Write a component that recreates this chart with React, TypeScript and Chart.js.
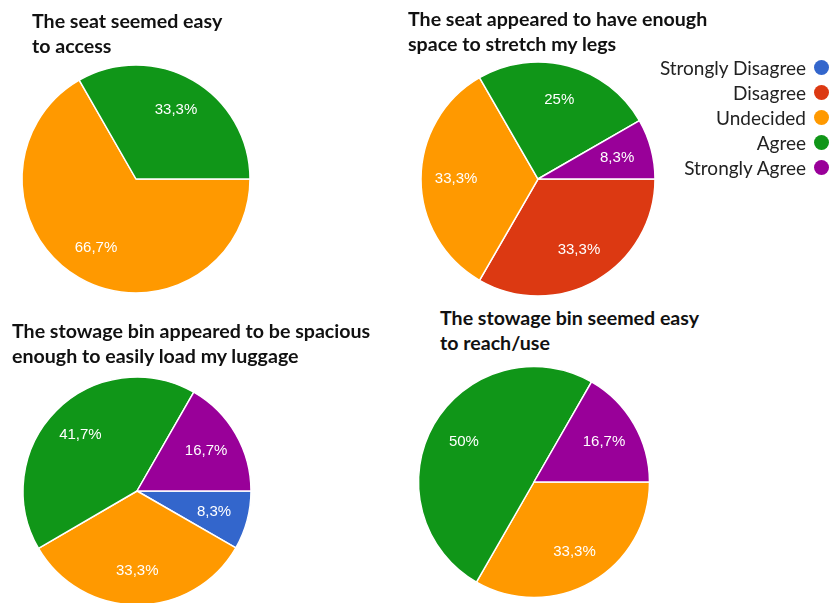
import React, { useEffect, useRef } from "react";
import { Chart, registerables } from "chart.js";

Chart.register(...registerables);

const categories = ["Strongly Disagree", "Disagree", "Undecided", "Agree", "Strongly Agree"];
const colors = ["#3366cc", "#dc3912", "#ff9900", "#109618", "#990099"];

const titles = [
  ["The seat seemed easy", "to access"],
  ["The seat appeared to have enough", "space to stretch my legs"],
  ["The stowage bin appeared to be spacious", "enough to easily load my luggage"],
  ["The stowage bin seemed easy", "to reach/use"],
];

// percentages per category (SD, D, U, A, SA)
const seatAccess = [0, 0, 66.7, 33.3, 0];
const seatLegroom = [0, 33.3, 33.3, 25, 8.3];
const binSpacious = [8.3, 0, 33.3, 41.7, 16.7];
const binReach = [0, 0, 33.3, 50, 16.7];

const seriesList = [seatAccess, seatLegroom, binSpacious, binReach];

// layout: pie centre x, centre y, radius
const pieLayout = [
  { cx: 135.5, cy: 179, r: 114 },
  { cx: 538, cy: 178.5, r: 117 },
  { cx: 136.5, cy: 491, r: 114 },
  { cx: 533.5, cy: 482, r: 115.5 },
];
const titleLayout = [
  { x: 32, y: 8 },
  { x: 408, y: 6 },
  { x: 12, y: 318 },
  { x: 440, y: 305 },
];

const labelPlugin = {
  id: "sliceLabels",
  afterDatasetsDraw(chart: any) {
    const ctx = chart.ctx;
    const meta = chart.getDatasetMeta(0);
    const data = chart.data.datasets[0].data as number[];
    ctx.save();
    ctx.fillStyle = "#ffffff";
    ctx.font = "15px 'Liberation Sans', Arial, sans-serif";
    ctx.textAlign = "center";
    ctx.textBaseline = "middle";
    meta.data.forEach((arc: any, i: number) => {
      const v = data[i];
      if (!v) return;
      const { x, y, startAngle, endAngle, outerRadius } = arc.getProps(
        ["x", "y", "startAngle", "endAngle", "outerRadius"],
        true
      );
      const mid = (startAngle + endAngle) / 2;
      const rr = outerRadius * 0.7;
      const txt = String(v).replace(".", ",") + "%";
      ctx.fillText(txt, x + Math.cos(mid) * rr, y + Math.sin(mid) * rr);
    });
    ctx.restore();
  },
};

function Pie({ values, layout }: { values: number[]; layout: { cx: number; cy: number; r: number } }) {
  const ref = useRef<HTMLCanvasElement | null>(null);
  const size = 250;
  useEffect(() => {
    if (!ref.current) return;
    const chart = new Chart(ref.current, {
      type: "pie",
      data: {
        labels: categories,
        datasets: [
          {
            data: values,
            backgroundColor: colors,
            borderColor: "#ffffff",
            borderWidth: 1.5,
          },
        ],
      },
      options: {
        responsive: false,
        animation: false,
        rotation: 90,
        radius: layout.r,
        layout: { padding: 0 },
        plugins: {
          legend: { display: false },
          tooltip: { enabled: false },
          title: { display: false },
        },
      },
      plugins: [labelPlugin],
    });
    return () => chart.destroy();
  }, []);
  return (
    <canvas
      ref={ref}
      width={size}
      height={size}
      style={{
        position: "absolute",
        left: layout.cx - size / 2,
        top: layout.cy - size / 2,
        width: size,
        height: size,
      }}
    />
  );
}

export default function App() {
  return (
    <div
      style={{
        position: "fixed",
        left: 0,
        top: 0,
        width: 830,
        height: 603,
        overflow: "hidden",
        background: "#ffffff",
      }}
    >
      {seriesList.map((vals, i) => (
        <Pie key={i} values={vals} layout={pieLayout[i]} />
      ))}
      {titles.map((lines, i) => (
        <div
          key={"t" + i}
          style={{
            position: "absolute",
            left: titleLayout[i].x,
            top: titleLayout[i].y,
            fontFamily: "Lato, sans-serif",
            fontWeight: 700,
            fontSize: 19.6,
            lineHeight: "25px",
            color: "#111",
            whiteSpace: "nowrap",
          }}
        >
          {lines.map((l, j) => (
            <div key={j}>{l}</div>
          ))}
        </div>
      ))}
      <div style={{ position: "absolute", right: 0, top: 55 }}>
        {categories.map((c, i) => (
          <div
            key={c}
            style={{
              display: "flex",
              alignItems: "center",
              justifyContent: "flex-end",
              height: 25,
              fontFamily: "Lato, sans-serif",
              fontSize: 19,
              color: "#222",
              whiteSpace: "nowrap",
            }}
          >
            <span>{c}</span>
            <span
              style={{
                display: "inline-block",
                width: 15,
                height: 15,
                borderRadius: "50%",
                background: colors[i],
                marginLeft: 8,
                marginRight: 1,
              }}
            />
          </div>
        ))}
      </div>
    </div>
  );
}
